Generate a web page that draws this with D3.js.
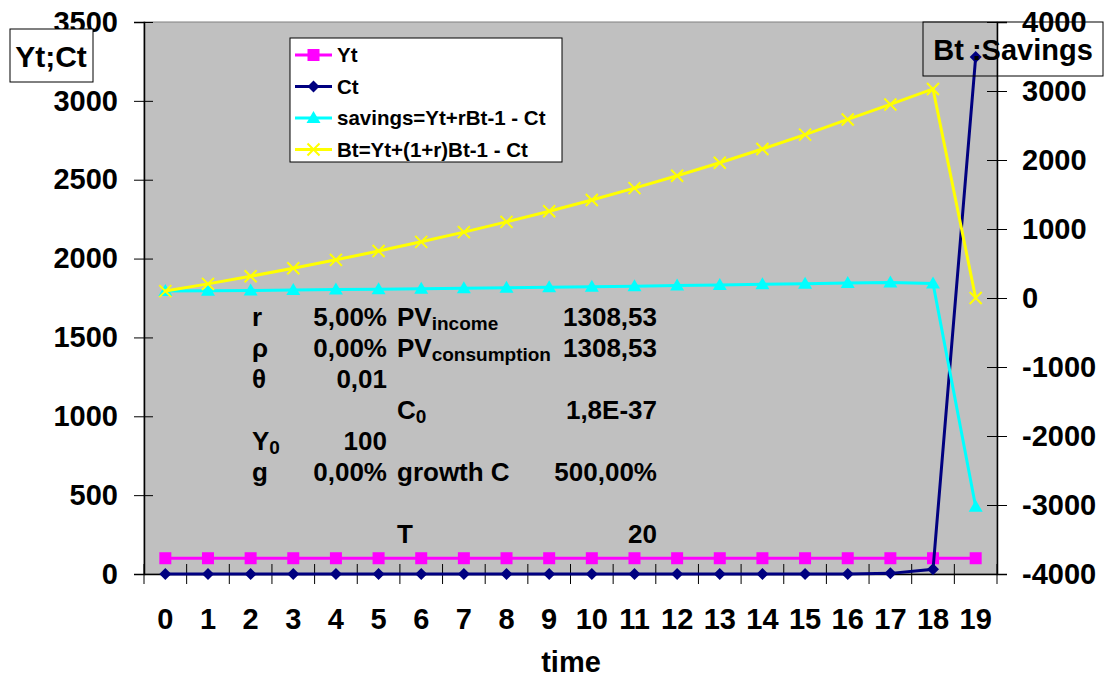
<!DOCTYPE html>
<html>
<head>
<meta charset="utf-8">
<script src="https://cdn.jsdelivr.net/npm/d3@7"></script>
<style>
  body { margin: 0; background: #fff; }
  text { font-family: "Liberation Sans", Arial, sans-serif; font-weight: bold; }
</style>
</head>
<body>
<svg id="chart" width="1104" height="677"></svg>
<script>
// data
const periods = [0,1,2,3,4,5,6,7,8,9,10,11,12,13,14,15,16,17,18,19];
const yt = [100,100,100,100,100,100,100,100,100,100,100,100,100,100,100,100,100,100,100,100];
const ct = [0,0,0,0,0,0,0,0,0,0,0,0,0,0,0,0,0,4,30,3278];
const savings = [100,105,110,116,122,128,134,141,148,155,163,171,180,189,198,208,218,226,210,-3025];
const bt = [100,205,315,431,553,680,814,955,1103,1258,1421,1592,1772,1960,2159,2368,2588,2805,3030,0];
const leftTicks = [0,500,1000,1500,2000,2500,3000,3500];
const rightTicks = [-4000,-3000,-2000,-1000,0,1000,2000,3000,4000];
const legendLabels = ["Yt","Ct","savings=Yt+rBt-1 - Ct","Bt=Yt+(1+r)Bt-1 - Ct"];

// parameter table: [label, value, label2, value2]
const tableRows = [
  [["r"], "5,00%", ["PV", "income"], "1308,53"],
  [["ρ"], "0,00%", ["PV", "consumption"], "1308,53"],
  [["θ"], "0,01", null, ""],
  [null, "", ["C", "0"], "1,8E-37"],
  [["Y", "0"], "100", null, ""],
  [["g"], "0,00%", ["growth C"], "500,00%"],
  [null, "", null, ""],
  [null, "", ["T"], "20"]
];

const svg = d3.select("#chart");
const plotLeft = 144, plotRight = 997, plotTop = 22, plotBottom = 574;

const x = d3.scaleBand().domain(periods).range([plotLeft, plotRight]);
const yL = d3.scaleLinear().domain([0, 3500]).range([plotBottom, plotTop]);
const yR = d3.scaleLinear().domain([-4000, 4000]).range([plotBottom, plotTop]);

// plot background
svg.append("rect")
  .attr("x", plotLeft).attr("y", plotTop)
  .attr("width", plotRight - plotLeft).attr("height", plotBottom - plotTop)
  .attr("fill", "#c0c0c0").attr("stroke", "#808080");

// left axis
const gL = svg.append("g").attr("transform", `translate(${plotLeft},0)`)
  .call(d3.axisLeft(yL).tickValues(leftTicks).tickFormat(d3.format("d")).tickSize(10).tickPadding(16));
gL.select(".domain").attr("stroke", "#000").attr("stroke-width", 1.5);
gL.selectAll(".tick line").attr("x1", -10).attr("x2", 9).attr("stroke", "#000");
gL.selectAll(".tick text").attr("font-size", 29).attr("fill", "#000");

// right axis
const gR = svg.append("g").attr("transform", `translate(${plotRight},0)`)
  .call(d3.axisRight(yR).tickValues(rightTicks).tickSize(10).tickPadding(15));
gR.select(".domain").attr("stroke", "#000").attr("stroke-width", 1.5);
gR.selectAll(".tick line").attr("x1", -10).attr("x2", 10).attr("stroke", "#000");
gR.selectAll(".tick text").attr("font-size", 29).attr("fill", "#000")
  .text(d => d < 0 ? "-" + Math.abs(d) : d);

// bottom axis: labels centred in bands, ticks between categories
const gB = svg.append("g").attr("transform", `translate(0,${plotBottom})`)
  .call(d3.axisBottom(x).tickSize(0).tickPadding(34));
gB.select(".domain").attr("stroke", "#000").attr("stroke-width", 1.5);
gB.selectAll(".tick text").attr("font-size", 29).attr("fill", "#000");
const bounds = periods.map(d => x(d)).concat([plotRight]);
gB.selectAll(".between").data(bounds).join("line")
  .attr("class", "between")
  .attr("x1", d => d).attr("x2", d => d)
  .attr("y1", -10).attr("y2", 10)
  .attr("stroke", "#000");

svg.append("text").attr("x", 571).attr("y", 672)
  .attr("text-anchor", "middle").attr("font-size", 29).text("time");

// parameter table
const tbl = svg.append("g");
function richText(g, parts, xPos, yPos) {
  const t = g.append("text").attr("x", xPos).attr("y", yPos).attr("font-size", 26);
  t.append("tspan").text(parts[0]);
  if (parts[1]) {
    t.append("tspan").attr("font-size", 19).attr("dy", 4).text(parts[1]);
  }
}
tableRows.forEach((row, i) => {
  const yy = 326 + i * 31;
  if (row[0]) richText(tbl, row[0], 252, yy);
  tbl.append("text").attr("x", 387).attr("y", yy).attr("text-anchor", "end")
    .attr("font-size", 26).text(row[1]);
  if (row[2]) richText(tbl, row[2], 397, yy);
  tbl.append("text").attr("x", 657).attr("y", yy).attr("text-anchor", "end")
    .attr("font-size", 26).text(row[3]);
});

// series
const series = [
  { values: yt, color: "#ff00ff", scale: yL, marker: "square" },
  { values: ct, color: "#000080", scale: yL, marker: "diamond" },
  { values: savings, color: "#00ffff", scale: yR, marker: "triangle" },
  { values: bt, color: "#ffff00", scale: yR, marker: "cross" }
];
const cx = d => x(d) + x.bandwidth() / 2;

function drawMarker(g, type, color, px, py) {
  if (type === "square") {
    g.append("rect").attr("x", px - 6).attr("y", py - 6).attr("width", 12).attr("height", 12).attr("fill", color);
  } else if (type === "diamond") {
    g.append("path").attr("d", `M${px},${py - 6}L${px + 6},${py}L${px},${py + 6}L${px - 6},${py}Z`).attr("fill", color);
  } else if (type === "triangle") {
    g.append("path").attr("d", `M${px},${py - 7}L${px + 7},${py + 5}L${px - 7},${py + 5}Z`).attr("fill", color);
  } else {
    g.append("path").attr("d", `M${px - 6},${py - 6}L${px + 6},${py + 6}M${px + 6},${py - 6}L${px - 6},${py + 6}`)
      .attr("stroke", color).attr("stroke-width", 2);
  }
}

series.forEach(s => {
  const g = svg.append("g");
  const line = d3.line().x((d, i) => cx(periods[i])).y(d => s.scale(d));
  g.append("path").datum(s.values).attr("d", line)
    .attr("fill", "none").attr("stroke", s.color).attr("stroke-width", 3);
  s.values.forEach((v, i) => drawMarker(g, s.marker, s.color, cx(periods[i]), s.scale(v)));
});

// legend
const lg = svg.append("g");
lg.append("rect").attr("x", 290).attr("y", 38).attr("width", 272).attr("height", 124)
  .attr("fill", "#fff").attr("stroke", "#000");
series.forEach((s, i) => {
  const ly = 55 + i * 31.5;
  lg.append("line").attr("x1", 295).attr("x2", 332).attr("y1", ly).attr("y2", ly)
    .attr("stroke", s.color).attr("stroke-width", 3);
  drawMarker(lg, s.marker, s.color, 313.5, ly);
  lg.append("text").attr("x", 337).attr("y", ly + 7).attr("font-size", 20.5).text(legendLabels[i]);
});

// axis title boxes
svg.append("rect").attr("x", 10).attr("y", 29).attr("width", 83).attr("height", 53)
  .attr("fill", "#fff").attr("stroke", "#000");
svg.append("text").attr("x", 51).attr("y", 67).attr("text-anchor", "middle")
  .attr("font-size", 30).text("Yt;Ct");

svg.append("rect").attr("x", 923).attr("y", 22).attr("width", 180).attr("height", 54)
  .attr("fill", "none").attr("stroke", "#000");
svg.append("text").attr("x", 1013).attr("y", 60).attr("text-anchor", "middle")
  .attr("font-size", 29).text("Bt :Savings");
</script>
</body>
</html>
